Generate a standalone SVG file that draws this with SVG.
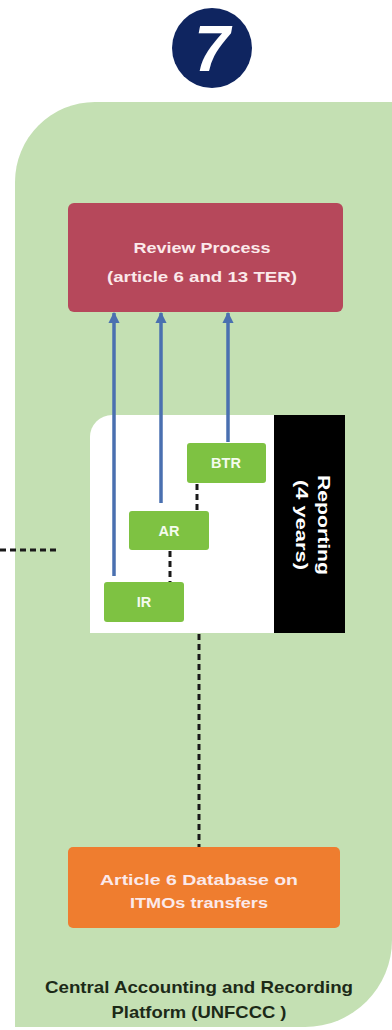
<svg xmlns="http://www.w3.org/2000/svg" width="392" height="1030" viewBox="0 0 392 1030">
<style>
.lbl{font-family:"Liberation Sans",Arial,sans-serif;font-weight:bold;text-anchor:middle}
.lt{fill:#fbe9ea;font-size:15px}
.gt{fill:#f4fbee;font-size:14.5px}
.dot{stroke:#1a1a1a;stroke-width:3;stroke-dasharray:6,4;fill:none}
.blue{stroke:#4a70b0;stroke-width:3.5;fill:none;marker-end:url(#ah)}
.gbox{fill:#7ec242}
</style>
<defs>
<marker id="ah" viewBox="0 0 10 10" refX="9" refY="5" markerWidth="3.2" markerHeight="3.2" orient="auto" markerUnits="strokeWidth">
<path d="M0,0 L10,5 L0,10 Z" fill="#4a70b0"/>
</marker>
</defs>
<rect width="392" height="1030" fill="#ffffff"/>
<g id="panel">
<path d="M15,1027 V182 A80,80 0 0 1 95,102 H392 V940 A87,87 0 0 1 305,1027 Z" fill="#c4e0b3"/>
<text class="lbl" x="199" y="993" font-size="17" fill="#1c2a18" textLength="308" lengthAdjust="spacingAndGlyphs">Central Accounting and Recording</text>
<text class="lbl" x="199" y="1018" font-size="17" fill="#1c2a18" textLength="175" lengthAdjust="spacingAndGlyphs">Platform (UNFCCC )</text>
</g>
<g id="step7">
<circle cx="212" cy="48" r="40" fill="#0f2560"/>
<text x="212" y="71" font-family="Liberation Sans,Arial,sans-serif" font-weight="bold" font-style="italic" font-size="64" fill="#ffffff" text-anchor="middle">7</text>
</g>
<g id="reportingArea">
<path d="M90,633 V437 A22,22 0 0 1 112,415 H280 V633 Z" fill="#ffffff"/>
</g>
<g id="reporting">
<rect x="274" y="415" width="71" height="218" fill="#000000"/>
<text class="lbl" transform="translate(318,525) rotate(90)" font-size="17" fill="#ffffff" textLength="100" lengthAdjust="spacingAndGlyphs">Reporting</text>
<text class="lbl" transform="translate(296,525) rotate(90)" font-size="17" fill="#ffffff" textLength="90" lengthAdjust="spacingAndGlyphs">(4 years)</text>
</g>
<g id="review">
<rect x="68" y="203" width="275" height="109" rx="6" fill="#b6485b"/>
<text class="lbl lt" x="202" y="253" textLength="137" lengthAdjust="spacingAndGlyphs">Review Process</text>
<text class="lbl lt" x="202" y="282" textLength="190" lengthAdjust="spacingAndGlyphs">(article 6 and 13 TER)</text>
</g>
<g id="btr">
<rect class="gbox" x="187" y="443" width="79" height="40" rx="3"/>
<text class="lbl gt" x="226" y="468">BTR</text>
</g>
<g id="ar">
<rect class="gbox" x="129" y="511" width="80" height="39" rx="3"/>
<text class="lbl gt" x="169" y="536">AR</text>
</g>
<g id="ir">
<rect class="gbox" x="104" y="582" width="80" height="40" rx="3"/>
<text class="lbl gt" x="144" y="607">IR</text>
</g>
<g id="database">
<rect x="68" y="847" width="272" height="81" rx="5" fill="#ef7d2f"/>
<text class="lbl lt" x="199" y="885" textLength="198" lengthAdjust="spacingAndGlyphs">Article 6 Database on</text>
<text class="lbl lt" x="199" y="908" textLength="138" lengthAdjust="spacingAndGlyphs">ITMOs transfers</text>
</g>
<g id="connectors">
<line class="blue" x1="114" y1="576" x2="114" y2="313"/>
<line class="blue" x1="161" y1="503" x2="161" y2="313"/>
<line class="blue" x1="228" y1="442" x2="228" y2="313"/>
<line class="dot" x1="197" y1="484" x2="197" y2="511"/>
<line class="dot" x1="170" y1="551" x2="170" y2="582"/>
<line class="dot" x1="199" y1="634" x2="199" y2="847"/>
<line class="dot" x1="0" y1="550" x2="56" y2="550"/>
</g>
</svg>
